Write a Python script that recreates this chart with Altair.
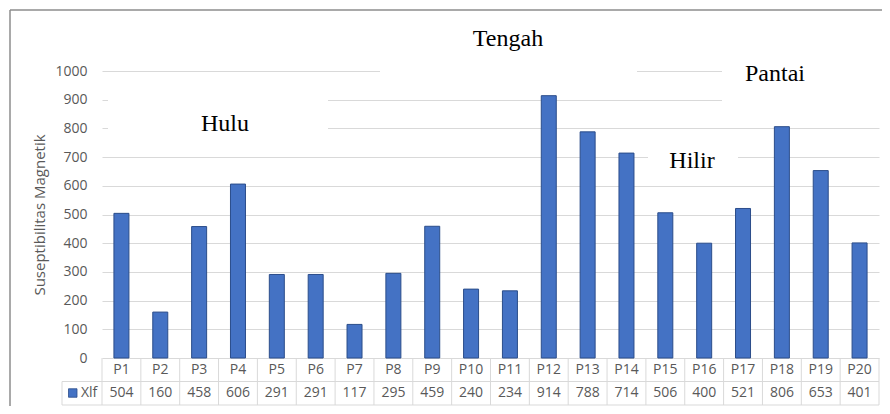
import altair as alt
import pandas as pd

# ---- data ----
categories = [f"P{i}" for i in range(1, 21)]
values = [504, 160, 458, 606, 291, 291, 117, 295, 459, 240,
          234, 914, 788, 714, 506, 400, 521, 806, 653, 401]
series_name = "Xlf"
y_ticks = list(range(0, 1001, 100))
y_title = "Suseptibilitas Magnetik"
region_labels = ["Hulu", "Tengah", "Hilir", "Pantai"]

# ---- layout (pixel positions relative to plot area) ----
W, H = 777, 287
label_pos = {"Hulu": (123, 60), "Tengah": (406, -25), "Hilir": (590, 97), "Pantai": (673, 10)}
# white boxes of the text frames that hide gridlines: (x, x2, y, y2)
boxes = [(6, 226, 14, 71), (278, 535, -50, 14), (620, 800, -50, 43), (546, 636, 72, 100)]

TXT = "#595959"
GRID = "#d9d9d9"
one = pd.DataFrame({"k": [0]})

df = pd.DataFrame({"cat": categories, "val": values})

xband = alt.X("cat:N", sort=categories, axis=None,
              scale=alt.Scale(paddingInner=0, paddingOuter=0))

bars = alt.Chart(df).mark_bar(size=15, fill="#4472C4", stroke="#2B4D8A", strokeWidth=1).encode(
    x=xband,
    y=alt.Y("val:Q", scale=alt.Scale(domain=[0, 1000], nice=False),
            axis=alt.Axis(values=y_ticks, format="d", title=y_title, domain=False, ticks=False,
                          labelPadding=15, labelFontSize=14, labelFont="Open Sans",
                          labelColor=TXT, gridColor=GRID, titleColor=TXT,
                          titleFont="Open Sans", titleFontSize=15, titleFontWeight="normal",
                          titlePadding=7)),
)

layers = []
for (x0, x1, y0, y1) in boxes:
    layers.append(alt.Chart(one).mark_rect(fill="white").encode(
        x=alt.value(x0), x2=alt.value(x1), y=alt.value(y0), y2=alt.value(y1)))

layers.append(bars)

# table: category row and value row
ROW1, ROW2, BOT = H, 310.5, 334
FS = 14
row1_text = alt.Chart(df).mark_text(font="Open Sans", fontSize=FS, color=TXT, baseline="middle").encode(
    x=xband, y=alt.value((ROW1 + ROW2) / 2), text="cat:N")
row2_text = alt.Chart(df).mark_text(font="Open Sans", fontSize=FS, color=TXT, baseline="middle").encode(
    x=xband, y=alt.value((ROW2 + BOT) / 2), text="val:Q")
vlines = alt.Chart(df).mark_rule(color=GRID, strokeWidth=1).encode(
    x=alt.X("cat:N", sort=categories, bandPosition=0, axis=None),
    y=alt.value(ROW1), y2=alt.value(BOT))
layers += [vlines, row1_text, row2_text]
for (x0, x1, y0, y1) in [(W, W, ROW1, BOT), (-40, -40, ROW2, BOT), (-40, W, ROW2, ROW2), (-40, W, BOT, BOT)]:
    layers.append(alt.Chart(one).mark_rule(color=GRID, strokeWidth=1).encode(
        x=alt.value(x0), x2=alt.value(x1), y=alt.value(y0), y2=alt.value(y1)))

# legend key in table
mid2 = (ROW2 + BOT) / 2
layers.append(alt.Chart(one).mark_rect(fill="#4472C4", stroke="#2B4D8A", strokeWidth=0.8).encode(
    x=alt.value(-33.5), x2=alt.value(-25), y=alt.value(mid2 - 4.5), y2=alt.value(mid2 + 4)))
layers.append(alt.Chart(one).mark_text(font="Open Sans", fontSize=FS, color=TXT, align="left",
                                       baseline="middle").encode(
    x=alt.value(-21), y=alt.value(mid2), text=alt.value(series_name)))

# region annotations
for name in region_labels:
    px, py = label_pos[name]
    layers.append(alt.Chart(one).mark_text(font="Liberation Serif", fontSize=24, color="black",
                                           align="center", baseline="alphabetic").encode(
        x=alt.value(px), y=alt.value(py), text=alt.value(name)))

# outer frame (left and top edges)
for (x0, x1, y0, y1) in [(-92, -92, -61, 345), (-92, 800, -61, -61)]:
    layers.append(alt.Chart(one).mark_rule(color="#8c8c8c", strokeWidth=1.5).encode(
        x=alt.value(x0), x2=alt.value(x1), y=alt.value(y0), y2=alt.value(y1)))

chart = alt.layer(*layers).properties(
    width=W, height=H,
    autosize=alt.AutoSizeParams(type="none"),
    padding={"left": 94, "top": 63, "right": 3, "bottom": 48},
).configure_view(stroke=None)

chart.save("out.html", embed_options={"renderer": "svg", "actions": False})
